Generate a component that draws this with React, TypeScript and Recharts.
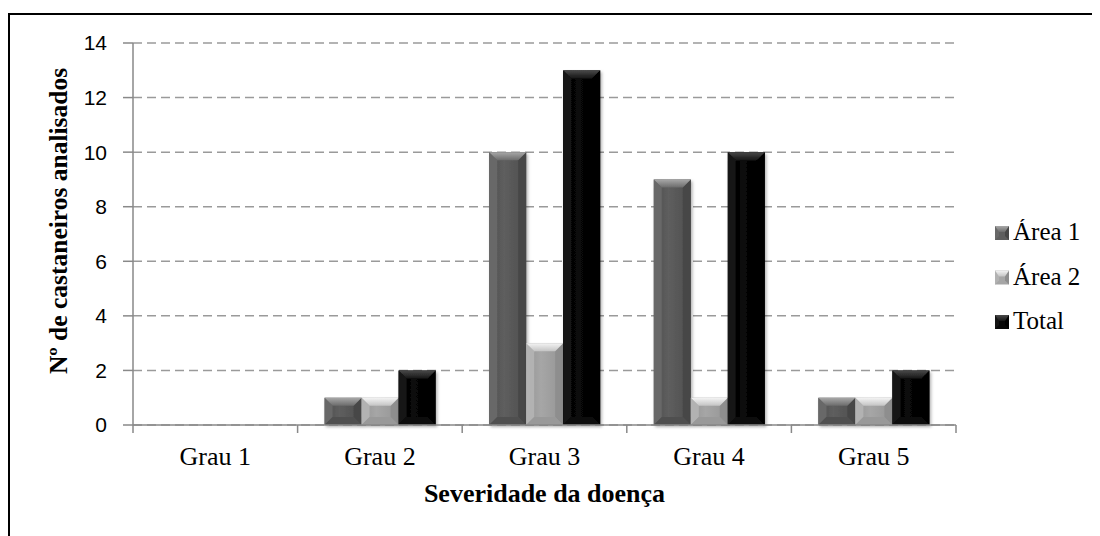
import { BarChart, Bar, XAxis, YAxis, CartesianGrid, Legend } from 'recharts';

const categories = ['Grau 1', 'Grau 2', 'Grau 3', 'Grau 4', 'Grau 5'];
const area1 = [0, 1, 10, 9, 1];
const area2 = [0, 1, 3, 1, 1];
const total = [0, 2, 13, 10, 2];
const yTicks = [0, 2, 4, 6, 8, 10, 12, 14];

const seriesNames = ['Área 1', 'Área 2', 'Total'];

const data = categories.map((grau, i) => ({
  grau,
  area1: area1[i],
  area2: area2[i],
  total: total[i],
}));

interface Palette {
  id: string;
  body: string;
  bodyEdge: string;
  topLight: string;
  topDark: string;
  left: string;
  right: string;
  bottom: string;
}

const palettes: Palette[] = [
  { id: 'a1', body: '#5e5e5e', bodyEdge: '#4f4f4f', topLight: '#a8a8a8', topDark: '#6c6c6c', left: '#686868', right: '#474747', bottom: '#505050' },
  { id: 'a2', body: '#a6a6a6', bodyEdge: '#959595', topLight: '#f4f4f4', topDark: '#c4c4c4', left: '#b2b2b2', right: '#8e8e8e', bottom: '#999999' },
  { id: 'tot', body: '#080808', bodyEdge: '#000000', topLight: '#4a4a4a', topDark: '#161616', left: '#141414', right: '#000000', bottom: '#101010' },
];

const serif = '"Liberation Serif", "Times New Roman", serif';
const axisGray = '#898989';

const bevel = (x: number, y: number, w: number, h: number, p: Palette, b0: number, shadow: boolean) => {
  const b = Math.min(b0, w / 2, h / 2);
  return (
    <g filter={shadow ? 'url(#barShadow)' : undefined}>
      <rect x={x} y={y} width={w} height={h} fill={`url(#body-${p.id})`} />
      <polygon points={`${x},${y} ${x + b},${y + b} ${x + b},${y + h - b} ${x},${y + h}`} fill={p.left} />
      <polygon points={`${x + w},${y} ${x + w - b},${y + b} ${x + w - b},${y + h - b} ${x + w},${y + h}`} fill={p.right} />
      <polygon points={`${x},${y + h} ${x + b},${y + h - b} ${x + w - b},${y + h - b} ${x + w},${y + h}`} fill={p.bottom} />
      <polygon points={`${x},${y} ${x + w},${y} ${x + w - b},${y + b} ${x + b},${y + b}`} fill={`url(#top-${p.id})`} />
    </g>
  );
};

const makeShape = (p: Palette) => (props: any) => {
  const { x, y, width, height } = props;
  if (!height || height <= 0) return <g />;
  return bevel(x, y, width, height, p, 8, true);
};

const XTick = (props: any) => {
  const { x, y, payload } = props;
  const off = payload.offset ?? 0;
  const last = payload.value === categories[categories.length - 1];
  return (
    <g>
      <line x1={x - off} x2={x - off} y1={y - 8} y2={y} stroke={axisGray} strokeWidth={1.5} />
      {last && <line x1={x + off} x2={x + off} y1={y - 8} y2={y} stroke={axisGray} strokeWidth={1.5} />}
      <text x={x} y={y + 32} textAnchor="middle" fontFamily={serif} fontSize={26} fill="#000">
        {payload.value}
      </text>
    </g>
  );
};

const LegendBox = () => (
  <svg width={110} height={140}>
    <defs>
      {palettes.map((p) => (
        <linearGradient key={p.id} id={`ltop-${p.id}`} x1="0" y1="0" x2="0" y2="1">
          <stop offset="0%" stopColor={p.topLight} />
          <stop offset="100%" stopColor={p.topDark} />
        </linearGradient>
      ))}
    </defs>
    {seriesNames.map((name, i) => {
      const p = palettes[i];
      const top = 7 + i * 44.5;
      const s = 14;
      const b = 4;
      return (
        <g key={name}>
          <rect x={0} y={top} width={s} height={s} fill={p.body} />
          <polygon points={`0,${top} ${b},${top + b} ${b},${top + s - b} 0,${top + s}`} fill={p.left} />
          <polygon points={`${s},${top} ${s - b},${top + b} ${s - b},${top + s - b} ${s},${top + s}`} fill={p.right} />
          <polygon points={`0,${top} ${s},${top} ${s - b},${top + b + 2} ${b},${top + b + 2}`} fill={`url(#ltop-${p.id})`} />
          <text x={18} y={top + 14} fontFamily={serif} fontSize={25} fill="#000">
            {name}
          </text>
        </g>
      );
    })}
  </svg>
);

export default function App() {
  return (
    <div style={{ paddingTop: 5 }}>
      <div style={{ width: 1086, height: 530, border: '2px solid #000', position: 'relative' }}>
        <BarChart
          width={1086}
          height={530}
          data={data}
          margin={{ top: 28, right: 140, left: 0, bottom: 0 }}
          barCategoryGap="16.4%"
          barGap={0}
        >
          <defs>
            <filter id="barShadow" x="-20%" y="-20%" width="150%" height="150%">
              <feDropShadow dx={1.5} dy={2} stdDeviation={1.5} floodColor="#000" floodOpacity={0.3} />
            </filter>
            {palettes.map((p) => (
              <linearGradient key={`b-${p.id}`} id={`body-${p.id}`} x1="0" y1="0" x2="1" y2="0">
                <stop offset="0%" stopColor={p.bodyEdge} />
                <stop offset="40%" stopColor={p.body} />
                <stop offset="100%" stopColor={p.bodyEdge} />
              </linearGradient>
            ))}
            {palettes.map((p) => (
              <linearGradient key={`t-${p.id}`} id={`top-${p.id}`} x1="0" y1="0" x2="0" y2="1">
                <stop offset="0%" stopColor={p.topLight} />
                <stop offset="100%" stopColor={p.topDark} />
              </linearGradient>
            ))}
          </defs>
          <CartesianGrid vertical={false} stroke="#9a9a9a" strokeWidth={1.5} strokeDasharray="9 5" />
          <XAxis
            dataKey="grau"
            height={120}
            interval={0}
            tickSize={8}
            tickMargin={0}
            tickLine={false}
            axisLine={{ stroke: axisGray, strokeWidth: 1.5 }}
            tick={<XTick />}
            label={{
              content: (lp: any) => {
                const vb = lp.viewBox;
                return (
                  <text
                    x={vb.x + vb.width / 2}
                    y={vb.y + 77}
                    textAnchor="middle"
                    fontFamily={serif}
                    fontWeight="bold"
                    fontSize={26}
                    fill="#000"
                  >
                    Severidade da doença
                  </text>
                );
              },
            }}
          />
          <YAxis
            type="number"
            domain={[0, 14]}
            ticks={yTicks}
            width={123}
            tickSize={10}
            tickMargin={16}
            axisLine={{ stroke: axisGray, strokeWidth: 1.5 }}
            tickLine={{ stroke: axisGray, strokeWidth: 1.5 }}
            tick={{ fill: '#000', fontSize: 21, fontFamily: '"Liberation Sans", Arial, sans-serif' }}
            label={{
              content: () => (
                <text
                  x={57}
                  y={206}
                  transform="rotate(-90, 57, 206)"
                  textAnchor="middle"
                  fontFamily={serif}
                  fontWeight="bold"
                  fontSize={25.5}
                  fill="#000"
                >
                  Nº de castaneiros analisados
                </text>
              ),
            }}
          />
          <Legend
            layout="horizontal"
            verticalAlign="middle"
            align="center"
            content={() => <LegendBox />}
            wrapperStyle={{ left: 985, top: 204, width: 110, height: 140 }}
          />
          <Bar dataKey="area1" name="Área 1" fill="#5e5e5e" isAnimationActive={false} shape={makeShape(palettes[0])} />
          <Bar dataKey="area2" name="Área 2" fill="#a6a6a6" isAnimationActive={false} shape={makeShape(palettes[1])} />
          <Bar dataKey="total" name="Total" fill="#080808" isAnimationActive={false} shape={makeShape(palettes[2])} />
        </BarChart>
      </div>
    </div>
  );
}
